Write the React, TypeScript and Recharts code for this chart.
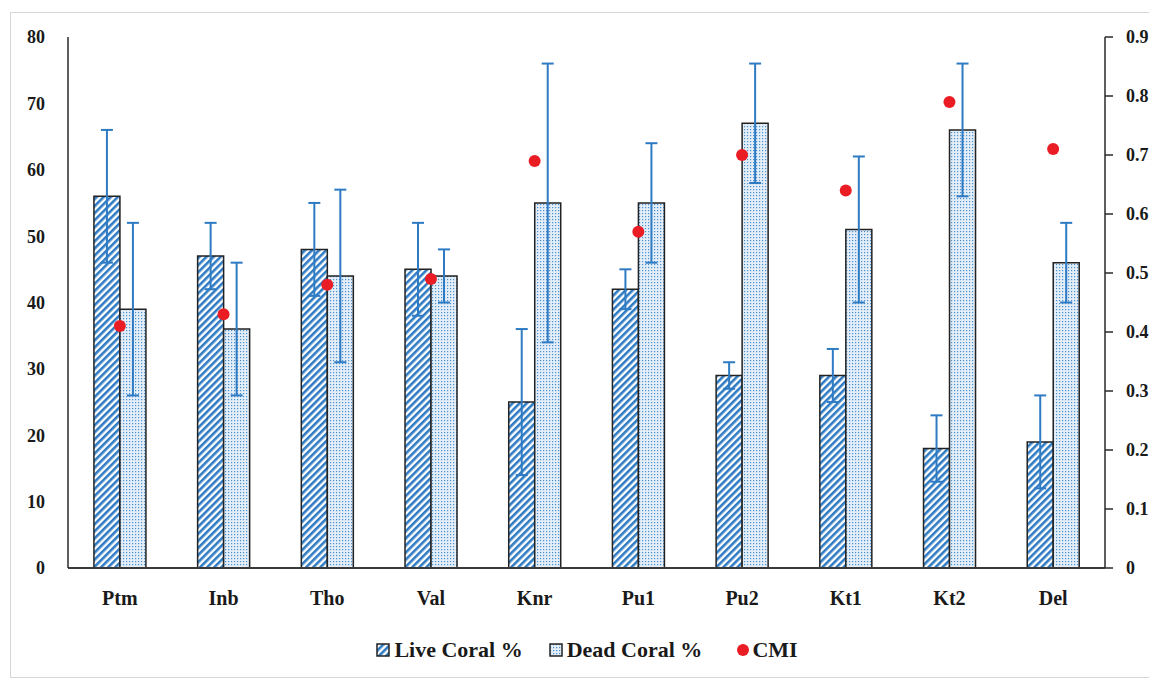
import React from 'react';
import { ComposedChart, Bar, Scatter, XAxis, YAxis, ErrorBar, Legend } from 'recharts';

const categories = ['Ptm', 'Inb', 'Tho', 'Val', 'Knr', 'Pu1', 'Pu2', 'Kt1', 'Kt2', 'Del'];
const liveCoral = [56, 47, 48, 45, 25, 42, 29, 29, 18, 19];
const liveErr = [10, 5, 7, 7, 11, 3, 2, 4, 5, 7];
const deadCoral = [39, 36, 44, 44, 55, 55, 67, 51, 66, 46];
const deadErr = [13, 10, 13, 4, 21, 9, 9, 11, 10, 6];
const cmi = [0.41, 0.43, 0.48, 0.49, 0.69, 0.57, 0.7, 0.64, 0.79, 0.71];
const leftTicks = [0, 10, 20, 30, 40, 50, 60, 70, 80];
const rightTicks = [0, 0.1, 0.2, 0.3, 0.4, 0.5, 0.6, 0.7, 0.8, 0.9];

const data = categories.map((c, i) => ({
  name: c,
  live: liveCoral[i],
  liveErr: liveErr[i],
  dead: deadCoral[i],
  deadErr: deadErr[i],
  cmi: cmi[i],
}));

const FONT = '"Liberation Serif", "DejaVu Serif", serif';
const BLUE = '#2e7bc4';
const RED = '#ea1c24';

const Patterns = () => (
  <defs>
    <pattern id="liveStripe" patternUnits="userSpaceOnUse" width="5" height="5" patternTransform="rotate(45)">
      <rect x="0" y="0" width="5" height="5" fill="#ffffff" />
      <rect x="0" y="0" width="2.6" height="5" fill={BLUE} />
    </pattern>
    <pattern id="deadDots" patternUnits="userSpaceOnUse" width="3" height="3">
      <rect x="0" y="0" width="3" height="3" fill="#e4eef8" />
      <rect x="1" y="1" width="1.2" height="1.2" fill="#4a90d0" />
    </pattern>
  </defs>
);

const renderLegend = () => (
  <div
    style={{
      display: 'flex',
      justifyContent: 'center',
      alignItems: 'center',
      fontFamily: FONT,
      fontWeight: 'bold',
      fontSize: 22,
      color: '#1a1a1a',
      height: 30,
      paddingLeft: 6,
    }}
  >
    <svg width="14" height="14" style={{ marginRight: 4 }}>
      <rect x="1" y="1" width="12" height="12" fill="url(#liveStripe)" stroke="#222" strokeWidth="1.5" />
    </svg>
    <span style={{ marginRight: 26 }}>Live Coral %</span>
    <svg width="14" height="14" style={{ marginRight: 4 }}>
      <rect x="1" y="1" width="12" height="12" fill="url(#deadDots)" stroke="#222" strokeWidth="1.5" />
    </svg>
    <span style={{ marginRight: 34 }}>Dead Coral %</span>
    <svg width="14" height="14" style={{ marginRight: 2 }}>
      <circle cx="7" cy="7" r="6" fill={RED} />
    </svg>
    <span>CMI</span>
  </div>
);

const Dot = (props: any) => {
  const { cx, cy } = props;
  if (cx == null || cy == null) return null;
  return <circle cx={cx} cy={cy} r={6} fill={RED} />;
};

export default function App() {
  return (
    <div style={{ position: 'relative', width: 1149, height: 671 }}>
      <div
        style={{
          position: 'absolute',
          left: 2,
          top: 4,
          width: 1160,
          height: 666,
          borderTop: '1px solid #d6d6d6',
          borderLeft: '1px solid #d6d6d6',
          borderBottom: '1px solid #d6d6d6',
          boxSizing: 'border-box',
        }}
      />
      <ComposedChart
        width={1149}
        height={671}
        data={data}
        margin={{ top: 29, right: 7, bottom: 14, left: 10 }}
        barCategoryGap="25%"
        barGap={0}
        style={{ position: 'absolute', left: 0, top: 0 }}
      >
        <Patterns />
        <XAxis
          dataKey="name"
          xAxisId="x"
          height={67}
          tickLine={false}
          tickSize={0}
          tickMargin={23}
          axisLine={{ stroke: '#3a3a3a', strokeWidth: 2 }}
          tick={{ fontFamily: FONT, fontWeight: 'bold', fontSize: 20, fill: '#1a1a1a' }}
        />
        <YAxis
          yAxisId="left"
          orientation="left"
          width={50}
          domain={[0, 80]}
          ticks={leftTicks}
          interval={0}
          tickLine={false}
          tickSize={0}
          tickMargin={23}
          axisLine={{ stroke: '#2a2a2a', strokeWidth: 1.5 }}
          tick={{ fontFamily: FONT, fontWeight: 'bold', fontSize: 18, fill: '#1a1a1a' }}
        />
        <YAxis
          yAxisId="right"
          orientation="right"
          width={45}
          domain={[0, 0.9]}
          ticks={rightTicks}
          interval={0}
          tickSize={8}
          tickMargin={13}
          tickFormatter={(v: number) => (v === 0 ? '0' : v.toFixed(1))}
          tickLine={{ stroke: '#2a2a2a', strokeWidth: 1.5 }}
          axisLine={{ stroke: '#2a2a2a', strokeWidth: 1.5 }}
          tick={{ fontFamily: FONT, fontWeight: 'bold', fontSize: 18, fill: '#1a1a1a' }}
        />
        <Bar
          dataKey="live"
          name="Live Coral %"
          xAxisId="x"
          yAxisId="left"
          fill="url(#liveStripe)"
          stroke="#222222"
          strokeWidth={1.5}
          isAnimationActive={false}
        >
          <ErrorBar dataKey="liveErr" width={6} stroke={BLUE} strokeWidth={2} direction="y" />
        </Bar>
        <Bar
          dataKey="dead"
          name="Dead Coral %"
          xAxisId="x"
          yAxisId="left"
          fill="url(#deadDots)"
          stroke="#222222"
          strokeWidth={1.5}
          isAnimationActive={false}
        >
          <ErrorBar dataKey="deadErr" width={6} stroke={BLUE} strokeWidth={2} direction="y" />
        </Bar>
        <Scatter
          dataKey="cmi"
          name="CMI"
          xAxisId="x"
          yAxisId="right"
          fill={RED}
          shape={Dot}
          isAnimationActive={false}
        />
        <Legend verticalAlign="bottom" height={30} content={renderLegend} />
      </ComposedChart>
    </div>
  );
}
